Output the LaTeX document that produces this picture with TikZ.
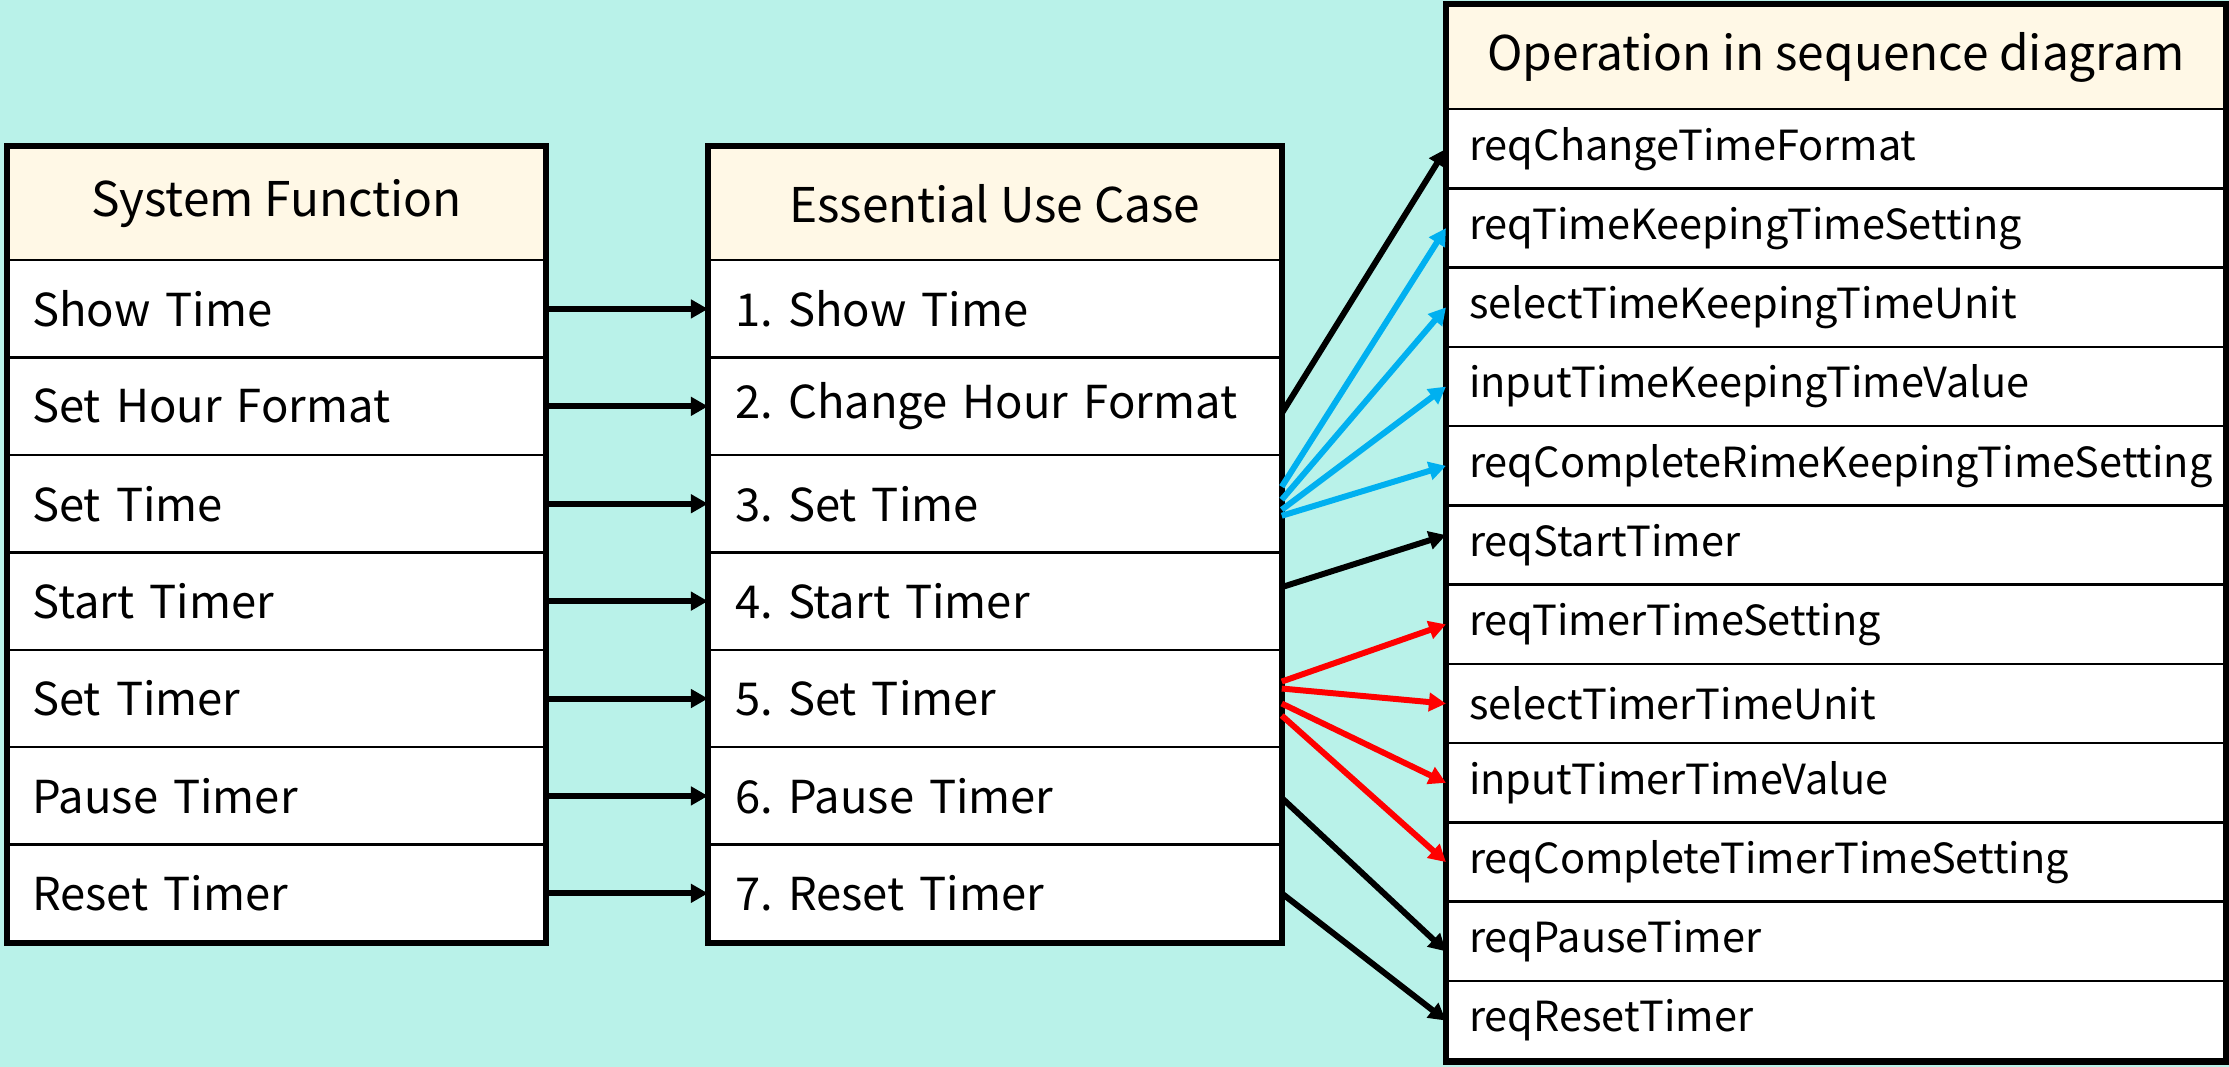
\documentclass[tikz,border=0pt]{standalone}
\usepackage{fontspec}
\setmainfont{Noto Sans CJK KR}
\usetikzlibrary{arrows.meta,calc}
\definecolor{bgmint}{HTML}{B9F2E9}
\definecolor{headcream}{HTML}{FFF8E6}
\definecolor{linkblue}{HTML}{00B0F0}
\definecolor{linkred}{HTML}{FF0000}
\frenchspacing

\begin{document}
\begin{tikzpicture}[x=0.01cm, y=-0.01cm,
    cell/.style={draw, line width=0.7pt, fill=white, anchor=north west, inner ysep=0pt, align=left},
    head/.style={draw, line width=0.7pt, fill=headcream, anchor=north west, inner sep=0pt, font=\fontsize{13.6}{16}\selectfont},
    frame/.style={line width=1.8pt},
    link/.style={line width=1.7pt, -{Triangle[length=0.17cm, width=0.18cm]}}]
    \fill[bgmint] (0,0) rectangle (2229,1067);

    \node[head, minimum width=5.36cm, minimum height=1.13cm] (sf0) at (7,146) {System Function};
    \foreach \t [count=\i] in {Show Time, Set Hour Format, Set Time, Start Timer, Set Timer, Pause Timer, Reset Timer}
        \node[cell, inner xsep=0.24cm, text width=4.88cm, minimum height=0.974cm, font=\fontsize{12.9}{15}\selectfont] (sf\i) at (7,{259+97.4*(\i-1)}) {\t};
    \draw[frame] (sf0.north west) rectangle (sf7.south east);

    \node[head, minimum width=5.71cm, minimum height=1.13cm] (uc0) at (708,146) {Essential Use Case};
    \foreach \t [count=\i] in {1. Show Time, 2. Change Hour Format, 3. Set Time, 4. Start Timer, 5. Set Timer, 6. Pause Timer, 7. Reset Timer}
        \node[cell, inner xsep=0.26cm, text width=5.19cm, minimum height=0.974cm, font=\fontsize{12.9}{15}\selectfont] (uc\i) at (708,{259+97.4*(\i-1)}) {\t};
    \draw[frame] (uc0.north west) rectangle (uc7.south east);

    \node[head, minimum width=7.77cm, minimum height=1.04cm] (op0) at (1446,4) {Operation in sequence diagram};
    \foreach \t [count=\i] in {reqChangeTimeFormat, reqTimeKeepingTimeSetting, selectTimeKeepingTimeUnit, inputTimeKeepingTimeValue, reqCompleteRimeKeepingTimeSetting, reqStartTimer, reqTimerTimeSetting, selectTimerTimeUnit, inputTimerTimeValue, reqCompleteTimerTimeSetting, reqPauseTimer, reqResetTimer}
        \node[cell, inner xsep=0.22cm, text width=7.33cm, minimum height=0.7925cm, font=\fontsize{11.8}{14}\selectfont] (op\i) at (1446,{108+79.25*(\i-1)}) {\t};
    \draw[frame] (op0.north west) rectangle (op12.south east);

    \foreach \i in {1,...,7}
        \draw[link] (sf\i.east) -- (uc\i.west);

    \draw[link] ($(uc2.east)+(0,7)$) -- (op1.west);
    \foreach \k/\d in {2/-17, 3/-4, 4/6, 5/12}
        \draw[link, linkblue] ($(uc3.east)+(0,\d)$) -- (op\k.west);
    \draw[link] ($(uc4.east)+(0,-14)$) -- ($(op6.west)+(0,-10)$);
    \foreach \k/\d in {7/-17, 8/-10, 9/5, 10/17}
        \draw[link, linkred] ($(uc5.east)+(0,\d)$) -- (op\k.west);
    \draw[link] ($(uc6.east)+(0,2)$) -- ($(op11.west)+(0,10)$);
    \draw[link] (uc7.east) -- (op12.west);
\end{tikzpicture}
\end{document}
